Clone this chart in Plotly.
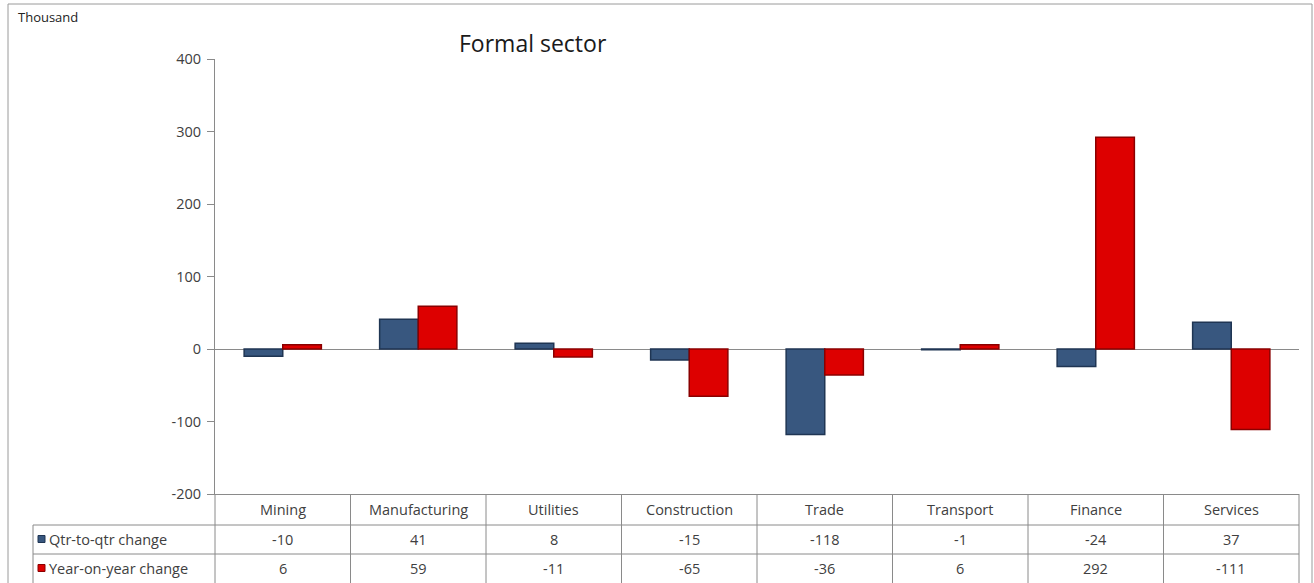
import plotly.graph_objects as go

categories = ["Mining", "Manufacturing", "Utilities", "Construction", "Trade", "Transport", "Finance", "Services"]
qtr_values = [-10, 41, 8, -15, -118, -1, -24, 37]
yoy_values = [6, 59, -11, -65, -36, 6, 292, -111]
series_names = ["Qtr-to-qtr change", "Year-on-year change"]
y_ticks = [-200, -100, 0, 100, 200, 300, 400]

W, H = 1314, 583
L, R, T, B = 215, 1299, 59, 494

def xp(px):
    return (px - L) / (R - L)

def yp(py):
    return (B - py) / (B - T)

BLUE = "#38577f"
BLUE_EDGE = "#1f3553"
RED = "#dd0000"
RED_EDGE = "#8a0000"
TXT = "#404040"
GRID = "#8a8a8a"
FONT = "Open Sans"
TS = 14.5

fig = go.Figure()
fig.add_trace(go.Bar(x=categories, y=qtr_values, name=series_names[0],
                     marker=dict(color=BLUE, line=dict(color=BLUE_EDGE, width=1.5))))
fig.add_trace(go.Bar(x=categories, y=yoy_values, name=series_names[1],
                     marker=dict(color=RED, line=dict(color=RED_EDGE, width=1.5))))

shapes = []
shapes.append(dict(type="rect", xref="paper", yref="paper",
                   x0=xp(8), x1=xp(1312), y0=yp(590), y1=yp(4),
                   line=dict(color="#9a9a9a", width=1), fillcolor="rgba(0,0,0,0)", layer="below"))
n = len(categories)
for k in range(n + 1):
    shapes.append(dict(type="line", xref="paper", yref="paper",
                       x0=k / n, x1=k / n, y0=0, y1=yp(590),
                       line=dict(color=GRID, width=1)))
shapes.append(dict(type="line", xref="paper", yref="paper",
                   x0=xp(33), x1=xp(33), y0=yp(525), y1=yp(590),
                   line=dict(color=GRID, width=1)))
for py in (525, 554):
    shapes.append(dict(type="line", xref="paper", yref="paper",
                       x0=xp(33), x1=1, y0=yp(py), y1=yp(py),
                       line=dict(color=GRID, width=1)))
for py, col, edge in ((539, BLUE, BLUE_EDGE), (568, RED, RED_EDGE)):
    shapes.append(dict(type="rect", xref="paper", yref="paper",
                       x0=xp(38), x1=xp(45), y0=yp(py + 3.5), y1=yp(py - 3.5),
                       fillcolor=col, line=dict(color=edge, width=1)))

annotations = []
annotations.append(dict(text="Thousand", xref="paper", yref="paper", x=xp(16), y=yp(17),
                        xanchor="left", yanchor="middle", showarrow=False,
                        font=dict(family=FONT, size=13, color="#222222")))
annotations.append(dict(text="Formal sector", xref="paper", yref="paper", x=xp(457), y=yp(43),
                        xanchor="left", yanchor="middle", showarrow=False,
                        font=dict(family=FONT, size=23, color="#1a1a1a")))
for i, c in enumerate(categories):
    xc = (i + 0.5) / n
    annotations.append(dict(text=c, xref="paper", yref="paper", x=xc, y=yp(509),
                            xanchor="center", yanchor="middle", showarrow=False,
                            font=dict(family=FONT, size=TS, color=TXT)))
    annotations.append(dict(text=str(qtr_values[i]), xref="paper", yref="paper", x=xc, y=yp(539),
                            xanchor="center", yanchor="middle", showarrow=False,
                            font=dict(family=FONT, size=TS, color=TXT)))
    annotations.append(dict(text=str(yoy_values[i]), xref="paper", yref="paper", x=xc, y=yp(568),
                            xanchor="center", yanchor="middle", showarrow=False,
                            font=dict(family=FONT, size=TS, color=TXT)))
for name, py in zip(series_names, (539, 568)):
    annotations.append(dict(text=name, xref="paper", yref="paper", x=xp(47), y=yp(py),
                            xanchor="left", yanchor="middle", showarrow=False,
                            font=dict(family=FONT, size=TS, color=TXT)))

fig.update_layout(
    width=W, height=H,
    margin=dict(l=L, r=W - R, t=T, b=H - B, pad=0),
    paper_bgcolor="white", plot_bgcolor="white",
    barmode="group", bargap=0.43, bargroupgap=0,
    showlegend=False,
    shapes=shapes, annotations=annotations,
    font=dict(family=FONT, size=TS, color=TXT),
)
fig.update_xaxes(showticklabels=False, showline=True, linecolor=GRID, linewidth=1,
                 ticks="", showgrid=False, zeroline=False, fixedrange=True)
fig.update_yaxes(range=[-200, 400], tickvals=y_ticks, ticktext=[str(v) for v in y_ticks],
                 showline=True, linecolor=GRID, linewidth=1,
                 ticks="outside", ticklen=7, tickcolor=GRID, showgrid=False,
                 zeroline=True, zerolinecolor=GRID, zerolinewidth=1,
                 tickfont=dict(family=FONT, size=TS, color=TXT), ticklabelstandoff=3)

fig.write_html("out.html", config={"displayModeBar": False},
               post_script="document.body.style.margin='0';document.body.style.overflow='hidden';")
